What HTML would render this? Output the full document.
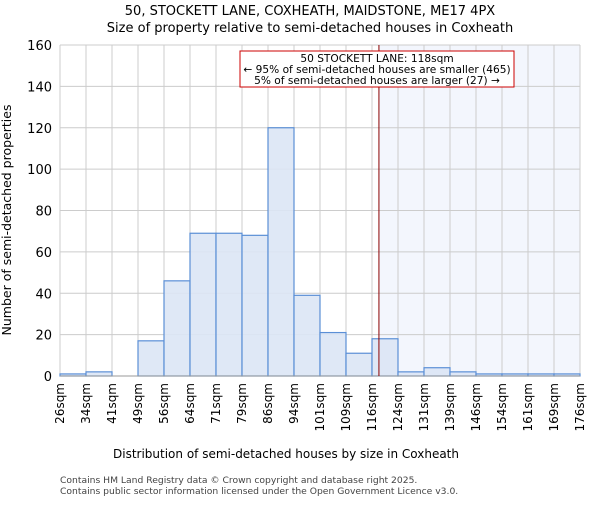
<!DOCTYPE html>
<html><head><meta charset="utf-8"><style>body{margin:0;background:#fff}svg{font-family:"DejaVu Sans","Liberation Sans",sans-serif}</style></head>
<body>
<svg id="c" width="600" height="500" viewBox="0 0 600 500">
<text x="310" y="15" text-anchor="middle" font-size="13">50, STOCKETT LANE, COXHEATH, MAIDSTONE, ME17 4PX</text>
<text x="310" y="32" text-anchor="middle" font-size="13">Size of property relative to semi-detached houses in Coxheath</text>
<g id="plot"></g>
<text x="286" y="458" text-anchor="middle" font-size="12">Distribution of semi-detached houses by size in Coxheath</text>
<text transform="translate(11,220) rotate(-90)" text-anchor="middle" font-size="12.5">Number of semi-detached properties</text>
<text x="60" y="483" font-size="9.2" fill="#444">Contains HM Land Registry data © Crown copyright and database right 2025.</text>
<text x="60" y="494" font-size="9.2" fill="#444">Contains public sector information licensed under the Open Government Licence v3.0.</text>
</svg>
<script>
const binLabels=["26sqm","34sqm","41sqm","49sqm","56sqm","64sqm","71sqm","79sqm","86sqm","94sqm","101sqm","109sqm","116sqm","124sqm","131sqm","139sqm","146sqm","154sqm","161sqm","169sqm","176sqm"];
const counts=[1,2,0,17,46,69,69,68,120,39,21,11,18,2,4,2,1,1,1,1];
const yTicks=[0,20,40,60,80,100,120,140,160];
const xMin=26,xMax=176,propertySize=118;
const L=60,R=580,T=45,B=376,yMax=160;
const NS="http://www.w3.org/2000/svg";
const g=document.getElementById('plot');
const n=counts.length;
const xb=i=>L+(R-L)*i/n;
const xv=v=>L+(R-L)*(v-xMin)/(xMax-xMin);
const y=v=>B-(B-T)*v/yMax;
function mk(t,a){const e=document.createElementNS(NS,t);for(const k in a)e.setAttribute(k,a[k]);g.appendChild(e);return e;}
const px=xv(propertySize);
let e=mk('rect',{x:px,y:T,width:R-px,height:B-T,fill:"#f3f6fd"});


yTicks.forEach(t=>{let l=mk('line',{x1:L,x2:R,y1:y(t),y2:y(t),stroke:"#cccccc"});


let tx=mk('text',{x:L-8,y:y(t)+5,"text-anchor":"end","font-size":"13"});tx.textContent=t;

});
binLabels.forEach((s,i)=>{let l=mk('line',{x1:xb(i),x2:xb(i),y1:T,y2:B,stroke:"#cccccc"});


let tx=mk('text',{transform:`translate(${xb(i)+4},383) rotate(-90)`,"text-anchor":"end","font-size":"12"});tx.textContent=s;

});
counts.forEach((c,i)=>{let r=mk('rect',{x:xb(i),y:y(c),width:xb(i+1)-xb(i),height:B-y(c),fill:"#dce6f5",stroke:"#5b8fd6","stroke-width":"1.2","fill-opacity":"0.9"});

});
e=mk('line',{x1:L,x2:R,y1:B,y2:B,stroke:"#999"});


e=mk('line',{x1:px,x2:px,y1:T,y2:B,stroke:"#8b0000","stroke-width":"1"});


e=mk('rect',{x:240,y:51,width:274,height:36,fill:"#fff",stroke:"#cc0000","stroke-width":"1"});


["50 STOCKETT LANE: 118sqm","← 95% of semi-detached houses are smaller (465)","5% of semi-detached houses are larger (27) →"].forEach((s,i)=>{let t=mk('text',{x:377,y:62+i*11,"text-anchor":"middle","font-size":"10.6"});t.textContent=s;

});
</script>
</body></html>
